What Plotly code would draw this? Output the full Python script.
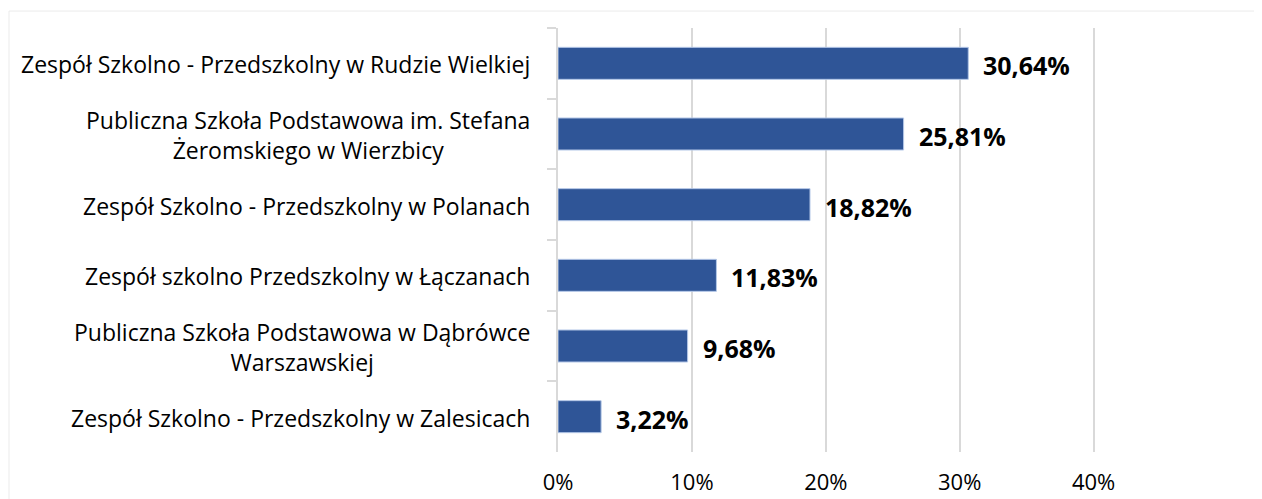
import plotly.graph_objects as go

categories = [
    "Zespół Szkolno - Przedszkolny w Rudzie Wielkiej",
    "Publiczna Szkoła Podstawowa im. Stefana<br>Żeromskiego w Wierzbicy",
    "Zespół Szkolno - Przedszkolny w Polanach",
    "Zespół szkolno Przedszkolny w Łączanach",
    "Publiczna Szkoła Podstawowa w Dąbrówce<br>Warszawskiej",
    "Zespół Szkolno - Przedszkolny w Zalesicach",
]
values = [30.64, 25.81, 18.82, 11.83, 9.68, 3.22]
value_labels = ["30,64%", "25,81%", "18,82%", "11,83%", "9,68%", "3,22%"]
x_ticks = [0, 10, 20, 30, 40]
x_tick_labels = ["0%", "10%", "20%", "30%", "40%"]

FONT = "Open Sans"
BAR = "#2F5597"
GRID = "#D9D9D9"

fig = go.Figure()
fig.add_trace(go.Bar(
    x=values, y=categories, orientation="h",
    marker=dict(color=BAR, line=dict(color="#B4C7E7", width=1)),
    hoverinfo="skip",
))

annotations = []
for c in categories:
    annotations.append(dict(
        x=0, xref="paper", y=c, yref="y", text=c, showarrow=False,
        xanchor="right", yanchor="middle", xshift=-26, yshift=-1, align="center",
        font=dict(family=FONT, size=23, color="#000000"),
    ))
for c, v, t in zip(categories, values, value_labels):
    annotations.append(dict(
        x=v, xref="x", y=c, yref="y", text="<b>" + t + "</b>", showarrow=False,
        xanchor="left", yanchor="middle", xshift=13, yshift=-2,
        font=dict(family=FONT, size=25, color="#000000"),
    ))

fig.update_layout(
    template="none",
    width=1254, height=491,
    margin=dict(l=550, r=155, t=20, b=47, autoexpand=False),
    paper_bgcolor="white", plot_bgcolor="white",
    bargap=0.547,
    showlegend=False,
    annotations=annotations,
    shapes=[dict(
        type="rect", xref="paper", yref="paper",
        x0=-1.0, x1=1.5, y0=-0.3, y1=1.04,
        line=dict(color="#EBEBEB", width=1), fillcolor="rgba(0,0,0,0)", layer="below",
    )],
    xaxis=dict(
        range=[0, 41], tickvals=x_ticks, ticktext=x_tick_labels,
        showgrid=True, gridcolor=GRID, gridwidth=1.5,
        zeroline=False, showline=False, ticks="", automargin=False,
        ticklabelstandoff=15,
        tickfont=dict(family=FONT, size=22, color="#000000"),
    ),
    yaxis=dict(
        autorange="reversed", showticklabels=False, automargin=False,
        showline=True, linecolor=GRID, linewidth=1.5,
        ticks="outside", tickson="boundaries", ticklen=9, tickcolor=GRID, tickwidth=1.5,
        showgrid=False, zeroline=False,
    ),
)

fig.write_html("out.html")
